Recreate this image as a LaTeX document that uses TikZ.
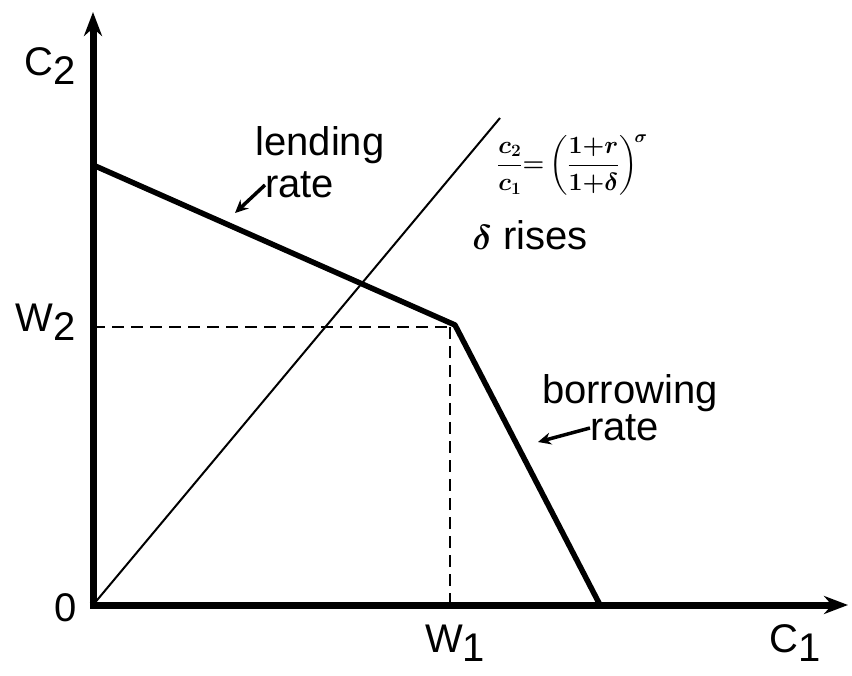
\documentclass[tikz,border=0pt]{standalone}
\usepackage{fontspec}
\setmainfont{Liberation Sans}
\usepackage{amsmath}
\usetikzlibrary{positioning,arrows.meta}
\newcommand{\lowidx}[1]{\raisebox{-0.22em}{#1}}
\tikzset{
  axis/.style={line width=7pt, -{Stealth[length=24pt, width=18pt]}},
  budget/.style={line width=5.5pt, line join=round},
  ray/.style={line width=2pt},
  guide/.style={line width=2pt, dash pattern=on 12pt off 7pt},
  pointer/.style={line width=3.5pt, -{Stealth[length=13pt, width=12pt]}},
  lbl/.style={font=\fontsize{40}{44}\selectfont, inner sep=0pt}
}
\begin{document}
\begin{tikzpicture}[x=1pt, y=-1pt]
  \useasboundingbox (0,0) rectangle (852,676);

  % axes and points
  \coordinate (O) at (93,605);
  \coordinate (ytop) at (93,12);
  \coordinate (xend) at (848,605);
  \coordinate (lendA) at (93,165);
  \coordinate (kink) at (455,325);
  \coordinate (borrB) at (600,605);
  \coordinate (rayend) at (500,118);
  \coordinate (w2pt) at (93,327);
  \coordinate (w1top) at (450,327);
  \coordinate (w1pt) at (450,605);

  \draw[axis] ([yshift=3.5pt]O) -- (ytop);
  \draw[axis] ([xshift=-3.5pt]O) -- (xend);
  \draw[budget] (lendA) -- (kink) -- (borrB);
  \draw[ray] (O) -- (rayend);
  \draw[guide] (w2pt) -- (w1top);
  \draw[guide] (w1top) -- (w1pt);

  % axis labels
  \node[lbl] (c2lab) at (50,66) {C\lowidx{2}};
  \node[lbl] (w2lab) at (46,322) {W\lowidx{2}};
  \node[lbl] (olab) at (66,608) {0};
  \node[lbl] (w1lab) at (455,643) {W\lowidx{1}};
  \node[lbl] (c1lab) at (795,643) {C\lowidx{1}};

  % curve labels
  \node[lbl] (lending) at (320,145) {lending};
  \node[lbl, anchor=west] (lendrate) at (265,185) {rate};
  \coordinate (lendtip) at (235,213);
  \draw[pointer] (lendrate.west) -- (lendtip);

  \node[lbl] (borrowing) at (630,393) {borrowing};
  \node[lbl, anchor=west] (borrrate) at (590,428) {rate};
  \coordinate (borrtip) at (538,442);
  \draw[pointer] (borrrate.west) -- (borrtip);

  \node[lbl] (rises) at (530,235) {\scalebox{1.4}{$\boldsymbol{\delta}$} rises};
  \node[font=\fontsize{25}{27}\selectfont, inner sep=0pt, anchor=west] (euler) at (497,165)
    {$\boldsymbol{\displaystyle\frac{c_2}{c_1}{=}\left(\frac{1{+}r}{1{+}\delta}\right)^{\!\sigma}}$};
\end{tikzpicture}
\end{document}
